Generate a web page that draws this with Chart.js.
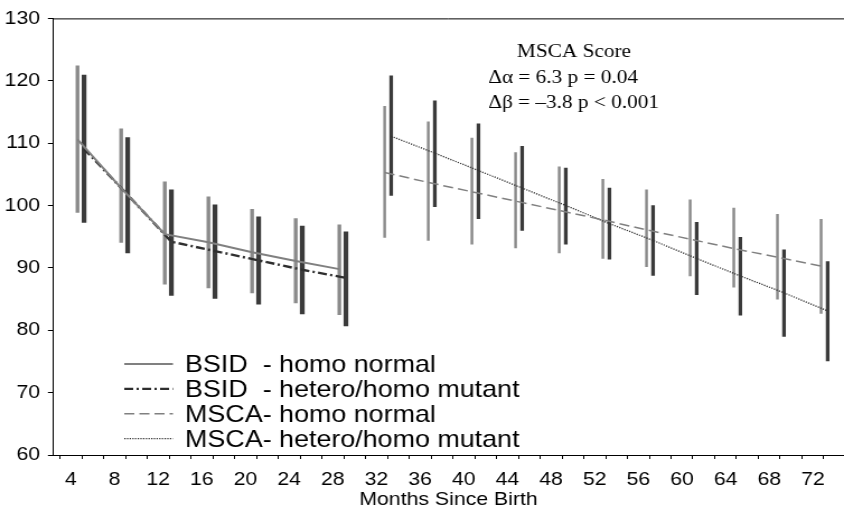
<!DOCTYPE html>
<html>
<head>
<meta charset="utf-8">
<script src="https://cdn.jsdelivr.net/npm/chart.js@4.4.1/dist/chart.umd.min.js"></script>
<style>
  html, body { margin: 0; padding: 0; background: #fff; }
</style>
</head>
<body>
<!-- the reference is slightly wide, so the canvas is drawn narrower and stretched -->
<canvas id="chart" width="754" height="515" style="display:block;width:844px;height:515px"></canvas>
<script>
// months of testing
const bsidMonths = [4, 8, 12, 16, 20, 24, 28];
const msaMonths = [32, 36, 40, 44, 48, 52, 56, 60, 64, 68, 72];

// BSID scores
const bsidNormalMean = [110.6, 102.8, 95.4, 94.1, 92.5, 91.1, 89.8];
const bsidNormalLow = [98.9, 94.1, 87.4, 86.8, 86.0, 84.4, 82.5];
const bsidNormalHigh = [122.4, 112.3, 103.8, 101.4, 99.4, 97.9, 96.9];
const bsidMutantMean = [109.1, 101.7, 94.2, 92.7, 91.2, 89.7, 88.4];
const bsidMutantLow = [97.3, 92.4, 85.6, 85.1, 84.2, 82.6, 80.7];
const bsidMutantHigh = [120.9, 110.9, 102.5, 100.1, 98.2, 96.7, 95.8];

// MSCA scores
const msaNormalMean = [105.3, 103.7, 102.2, 100.7, 99.2, 97.7, 96.1, 94.6, 93.1, 91.7, 90.3];
const msaNormalLow = [94.9, 94.4, 93.8, 93.2, 92.4, 91.5, 90.2, 88.7, 86.9, 85.0, 82.7];
const msaNormalHigh = [115.9, 113.4, 110.8, 108.5, 106.2, 104.2, 102.5, 100.9, 99.6, 98.6, 97.8];
const msaMutantMean = [111.1, 108.4, 105.6, 102.8, 100.0, 97.1, 94.4, 91.5, 88.7, 86.0, 83.1];
const msaMutantLow = [101.6, 99.8, 97.9, 96.0, 93.8, 91.4, 88.8, 85.7, 82.4, 79.0, 75.1];
const msaMutantHigh = [120.8, 116.8, 113.1, 109.5, 106.0, 102.8, 100.0, 97.3, 94.9, 92.9, 91.0];

const yTicks = [60, 70, 80, 90, 100, 110, 120, 130];
const annotation = ['MSCA Score', '\u0394\u03b1 = 6.3 p = 0.04', '\u0394\u03b2 = \u20133.8 p < 0.001'];

const GREY = '#8a8a8a';
const DARK = '#3a3a3a';
const SANS = "'Liberation Sans', Arial, Helvetica, sans-serif";
const SERIF = "'Liberation Serif', 'Times New Roman', serif";

// the two groups sit side by side around each month
function pts(months, vals, shift) {
    return months.map((m, i) => ({ x: m + shift, y: vals[i] }));
}
function bars(months, lo, hi, shift) {
    return months.map((m, i) => ({ x: m + shift, y: [lo[i], hi[i]] }));
}

function errorBars(data, color, width) {
    return {
        type: 'bar', data: data, backgroundColor: color, borderWidth: 0,
        barThickness: width, grouped: false, order: 2
    };
}
function meanLine(label, data, color, width, dash) {
    return {
        type: 'line', label: label, data: data, borderColor: color, borderWidth: width,
        borderDash: dash, pointRadius: 0, tension: 0, fill: false, order: 1
    };
}

const datasets = [
    errorBars(bars(bsidMonths, bsidNormalLow, bsidNormalHigh, 0.6), GREY, 2.7),
    errorBars(bars(bsidMonths, bsidMutantLow, bsidMutantHigh, 1.2), DARK, 3.6),
    errorBars(bars(msaMonths, msaNormalLow, msaNormalHigh, 0.75), GREY, 1.8),
    errorBars(bars(msaMonths, msaMutantLow, msaMutantHigh, 1.35), DARK, 2.6),
    meanLine('BSID  - homo normal', pts(bsidMonths, bsidNormalMean, 0.6), '#808080', 2, []),
    meanLine('BSID  - hetero/homo mutant', pts(bsidMonths, bsidMutantMean, 1.2), '#2e2e2e', 2.4, [8, 3, 2, 3]),
    meanLine('MSCA- homo normal', pts(msaMonths, msaNormalMean, 0.75), '#808080', 1.5, [9, 4.5]),
    meanLine('MSCA- hetero/homo mutant', pts(msaMonths, msaMutantMean, 1.35), '#2e2e2e', 1.3, [1.2, 1.2])
];

// top frame line, legend and the MSCA note
const extras = {
    id: 'extras',
    afterDraw(chart) {
        const ctx = chart.ctx;
        const area = chart.chartArea;
        ctx.save();
        ctx.strokeStyle = '#000';
        ctx.lineWidth = 1;
        ctx.beginPath();
        ctx.moveTo(area.left, area.top + 0.5);
        ctx.lineTo(area.right, area.top + 0.5);
        ctx.stroke();

        // legend
        const lines = chart.data.datasets.filter(d => d.type === 'line');
        ctx.font = '24px ' + SANS;
        ctx.fillStyle = '#000';
        ctx.textBaseline = 'alphabetic';
        lines.forEach((d, i) => {
            const base = 372 + i * 24.9;
            const mid = base - 8;
            ctx.strokeStyle = d.borderColor;
            ctx.lineWidth = d.borderWidth;
            ctx.setLineDash(d.borderDash);
            ctx.beginPath();
            ctx.moveTo(111, mid);
            ctx.lineTo(154.5, mid);
            ctx.stroke();
            ctx.setLineDash([]);
            ctx.fillText(d.label, 165.3, base);
        });

        // note
        ctx.font = '19px ' + SERIF;
        ctx.textAlign = 'center';
        ctx.fillText(annotation[0], 512.8, 57);
        ctx.textAlign = 'left';
        ctx.fillText(annotation[1], 436.2, 83);
        ctx.fillText(annotation[2], 436.2, 108);
        ctx.restore();
    }
};

new Chart(document.getElementById('chart'), {
    type: 'bar',
    data: { datasets: datasets },
    options: {
        responsive: false,
        devicePixelRatio: 1,
        animation: false,
        layout: { padding: { top: 15, right: 0, bottom: 0, left: 0 } },
        plugins: { legend: { display: false }, tooltip: { enabled: false } },
        scales: {
            x: {
                type: 'linear',
                min: 2.35,
                max: 74.85,
                offset: false,
                afterFit: s => { s.height = 60; },
                afterBuildTicks: s => {
                    const t = [];
                    for (let v = 3; v <= 73; v++) t.push({ value: v });
                    s.ticks = t;
                },
                ticks: {
                    autoSkip: false,
                    maxRotation: 0,
                    padding: 9,
                    color: '#000',
                    font: { family: SANS, size: 19 },
                    callback: v => (v % 4 === 0 ? String(v) : '')
                },
                grid: {
                    offset: false,
                    drawOnChartArea: false,
                    tickLength: 4,
                    color: c => (c.tick && c.tick.value % 2 === 1 ? '#000' : 'rgba(0,0,0,0)')
                },
                border: { color: '#000', width: 1 },
                title: {
                    display: true,
                    text: 'Months Since Birth',
                    color: '#000',
                    font: { family: SANS, size: 19 },
                    padding: { top: 0, bottom: 4 }
                }
            },
            y: {
                min: 60,
                max: 130,
                afterFit: s => { s.width = 47.3; },
                afterBuildTicks: s => { s.ticks = yTicks.map(v => ({ value: v })); },
                ticks: {
                    padding: 7,
                    color: '#000',
                    font: { family: SANS, size: 19 }
                },
                grid: { drawOnChartArea: false, tickLength: 4.5, color: '#000' },
                border: { color: '#000', width: 1 }
            }
        }
    },
    plugins: [extras]
});
</script>
</body>
</html>
